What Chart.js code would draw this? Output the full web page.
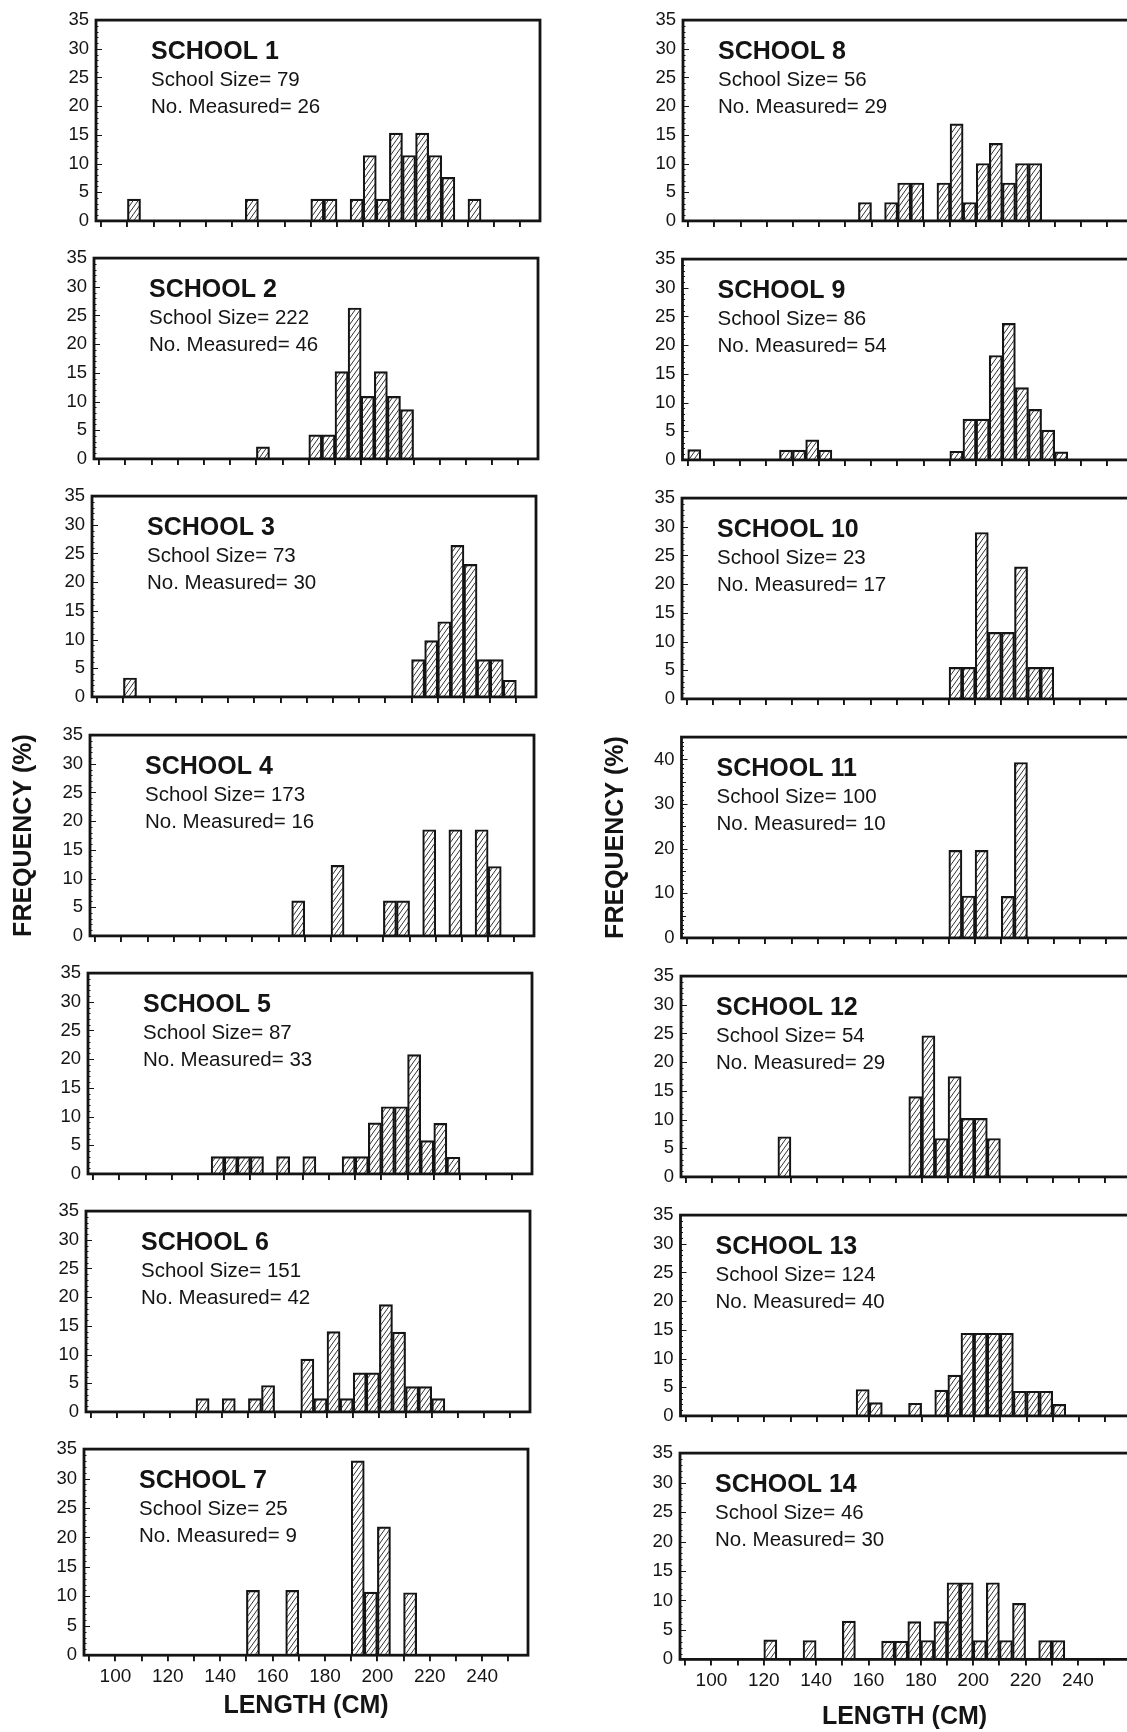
<!DOCTYPE html>
<html>
<head>
<meta charset="utf-8">
<script src="https://cdn.jsdelivr.net/npm/chart.js@4.4.1/dist/chart.umd.min.js"></script>
<style>
  html, body { margin: 0; padding: 0; background: #fff; }
  #page { position: relative; width: 1127px; height: 1732px; overflow: hidden; background: #fff; }
  #page canvas { position: absolute; }
</style>
</head>
<body>
<div id="page"></div>
<script>
// Length-frequency of each school: [bin start (cm), frequency (%)], bins 5 cm wide
const school1  = [[100, 3.8], [145, 3.8], [170, 3.8], [175, 3.8], [185, 3.8], [190, 11.4], [195, 3.8], [200, 15.3], [205, 11.4], [210, 15.3], [215, 11.4], [220, 7.6], [230, 3.8]];
const school2  = [[150, 2.1], [170, 4.2], [175, 4.2], [180, 15.2], [185, 26.3], [190, 10.9], [195, 15.2], [200, 10.9], [205, 8.6]];
const school3  = [[100, 3.3], [210, 6.5], [215, 9.8], [220, 13.1], [225, 26.4], [230, 23.1], [235, 6.5], [240, 6.5], [245, 2.9]];
const school4  = [[165, 6.1], [180, 12.3], [200, 6.1], [205, 6.1], [215, 18.5], [225, 18.5], [235, 18.5], [240, 12.1]];
const school5  = [[135, 3], [140, 3], [145, 3], [150, 3], [160, 3], [170, 3], [185, 3], [190, 3], [195, 8.9], [200, 11.7], [205, 11.7], [210, 20.8], [215, 5.8], [220, 8.8], [225, 2.9]];
const school6  = [[130, 2.3], [140, 2.3], [150, 2.3], [155, 4.6], [170, 9.2], [175, 2.3], [180, 14], [185, 2.3], [190, 6.8], [195, 6.8], [200, 18.7], [205, 13.9], [210, 4.4], [215, 4.4], [220, 2.3]];
const school7  = [[150, 11], [165, 11], [190, 33], [195, 10.7], [200, 21.8], [210, 10.6]];
const school8  = [[155, 3.2], [165, 3.2], [170, 6.6], [175, 6.6], [185, 6.6], [190, 16.9], [195, 3.2], [200, 10], [205, 13.5], [210, 6.6], [215, 10], [220, 10]];
const school9  = [[90, 1.8], [125, 1.7], [130, 1.7], [135, 3.5], [140, 1.7], [190, 1.5], [195, 7.1], [200, 7.1], [205, 18.2], [210, 23.8], [215, 12.6], [220, 8.8], [225, 5.2], [230, 1.4]];
const school10 = [[190, 5.5], [195, 5.5], [200, 29], [205, 11.6], [210, 11.6], [215, 23], [220, 5.5], [225, 5.5]];
const school11 = [[190, 19.6], [195, 9.4], [200, 19.6], [210, 9.3], [215, 39.3]];
const school12 = [[125, 7], [175, 14], [180, 24.6], [185, 6.7], [190, 17.5], [195, 10.2], [200, 10.2], [205, 6.7]];
const school13 = [[155, 4.6], [160, 2.3], [175, 2.2], [185, 4.5], [190, 7.1], [195, 14.4], [200, 14.4], [205, 14.4], [210, 14.4], [215, 4.3], [220, 4.3], [225, 4.3], [230, 2]];
const school14 = [[120, 3.3], [135, 3.2], [150, 6.5], [165, 3.1], [170, 3.1], [175, 6.4], [180, 3.2], [185, 6.4], [190, 13], [195, 13], [200, 3.2], [205, 13], [210, 3.2], [215, 9.5], [225, 3.2], [230, 3.2]];

const schoolSizes  = [79, 222, 73, 173, 87, 151, 25, 56, 86, 23, 100, 54, 124, 46];
const numMeasured  = [26, 46, 30, 16, 33, 42, 9, 29, 54, 17, 10, 29, 40, 30];
const lengthTickLabels = [100, 120, 140, 160, 180, 200, 220, 240];
const yAxisMax = [35, 35, 35, 35, 35, 35, 35, 35, 35, 35, 45, 35, 35, 35];
const yLabelStep = [5, 5, 5, 5, 5, 5, 5, 5, 5, 5, 10, 5, 5, 5];

const schools = [school1, school2, school3, school4, school5, school6, school7,
                 school8, school9, school10, school11, school12, school13, school14];

const BIN = 5;
const INK = '#141414';
const FONT = '"Liberation Sans", Arial, Helvetica, sans-serif';
Chart.defaults.font.family = FONT;
Chart.defaults.color = INK;

// diagonal "/" hatching used to fill the bars
function hatchTile() {
  const t = document.createElement('canvas');
  t.width = 5; t.height = 7;
  const c = t.getContext('2d');
  c.strokeStyle = '#262626';
  c.lineWidth = 0.95;
  c.beginPath();
  for (const dx of [-5, 0, 5]) { c.moveTo(dx, 7); c.lineTo(dx + 5, 0); }
  c.stroke();
  return t;
}
const tile = hatchTile();

// frame, inward minor ticks on the frequency axis and the panel captions
const panelDecor = {
  id: 'panelDecor',
  afterDatasetsDraw(chart, args, o) {
    const { ctx, chartArea: a } = chart;
    const y = chart.scales.y;
    ctx.save();
    ctx.strokeStyle = INK;
    ctx.lineWidth = 1.1;
    ctx.beginPath();
    for (let v = 0; v <= y.max; v++) {
      const py = Math.round(y.getPixelForValue(v)) + 0.5;
      const len = v % o.labelStep === 0 ? 6 : (v % 5 === 0 ? 4.5 : 2.5);
      ctx.moveTo(a.left, py);
      ctx.lineTo(a.left + len, py);
    }
    ctx.stroke();
    ctx.lineWidth = 2.8;
    ctx.strokeRect(a.left, a.top, a.right - a.left, a.bottom - a.top);

    ctx.fillStyle = INK;
    ctx.textAlign = 'left';
    ctx.textBaseline = 'middle';
    const tx = a.left + o.textX;
    ctx.font = 'bold 25px ' + FONT;
    ctx.fillText(o.title, tx, a.top + 32);
    ctx.font = '20.5px ' + FONT;
    ctx.fillText(o.sizeText, tx, a.top + 60);
    ctx.fillText(o.measuredText, tx, a.top + 87);
    ctx.restore();
  }
};

const page = document.getElementById('page');

function drawPanel(i) {
  const col = i < 7 ? 0 : 1;
  const k = i % 7;
  const isBottom = k === 6;
  const isMiddle = k === 3;

  // panel placement on the page
  const plotH = 211;
  const baseline = col === 0 ? 226 + 238.2 * k : 226 + 238.9 * k;
  const frameTop = baseline - plotH;
  const canvasLeft = col === 0 ? 0 : 590;
  const frameLeft = col === 0 ? 96 - 2 * k : 683 - 0.5 * k;
  const frameW = col === 0 ? 444 : 449;
  const xMax = col === 0 ? 257.5 : 259.5;
  const padTop = 13, padRight = 6;
  const yAreaW = frameLeft - canvasLeft;
  const bottomArea = isBottom ? (col === 0 ? 1721 : 1732) - baseline : 13;

  const cv = document.createElement('canvas');
  cv.width = Math.round(yAreaW + frameW + padRight);
  cv.height = Math.round(padTop + plotH + bottomArea);
  cv.style.left = canvasLeft + 'px';
  cv.style.top = (frameTop - padTop) + 'px';
  page.appendChild(cv);
  const ctx = cv.getContext('2d');
  const hatch = ctx.createPattern(tile, 'repeat');

  const points = schools[i].map(([start, pct]) => ({ x: start + BIN / 2, y: pct }));

  new Chart(ctx, {
    type: 'bar',
    data: {
      datasets: [{
        data: points,
        backgroundColor: hatch,
        borderColor: INK,
        borderWidth: 1.5,
        borderSkipped: 'start',
        categoryPercentage: 1,
        barPercentage: 1
      }]
    },
    options: {
      responsive: false,
      animation: false,
      devicePixelRatio: 1,
      events: [],
      layout: { padding: { top: padTop, right: padRight, bottom: 0, left: 0 } },
      plugins: {
        legend: { display: false },
        tooltip: { enabled: false },
        panelDecor: {
          labelStep: yLabelStep[i],
          textX: col === 0 ? 55 : 35,
          title: 'SCHOOL ' + (i + 1),
          sizeText: 'School Size= ' + schoolSizes[i],
          measuredText: 'No. Measured= ' + numMeasured[i]
        }
      },
      scales: {
        x: {
          type: 'linear',
          min: 88,
          max: xMax,
          offset: false,
          afterFit(s) { s.height = bottomArea; },
          border: { display: false },
          grid: { display: true, drawOnChartArea: false, drawTicks: true, tickLength: 6, lineWidth: 1.9, color: INK, offset: false },
          ticks: {
            stepSize: 10,
            includeBounds: false,
            autoSkip: false,
            maxRotation: 0,
            padding: 4,
            color: INK,
            font: { size: 19 },
            callback: v => (isBottom && lengthTickLabels.includes(v)) ? String(v) : ''
          },
          title: {
            display: isBottom,
            text: 'LENGTH (CM)',
            color: INK,
            font: { size: 25, weight: 'bold' },
            padding: { top: 0, bottom: 0 }
          }
        },
        y: {
          type: 'linear',
          min: 0,
          max: yAxisMax[i],
          afterFit(s) { s.width = yAreaW; },
          border: { display: false },
          grid: { display: false, drawTicks: false },
          ticks: { stepSize: yLabelStep[i], includeBounds: false, padding: 7, color: INK, font: { size: 18.5 } },
          title: {
            display: isMiddle,
            text: 'FREQUENCY (%)',
            color: INK,
            font: { size: 25, weight: 'bold' },
            padding: { top: col === 0 ? 9 : 11, bottom: 0 }
          }
        }
      }
    },
    plugins: [panelDecor]
  });
}

for (let i = 0; i < schools.length; i++) drawPanel(i);
</script>
</body>
</html>
